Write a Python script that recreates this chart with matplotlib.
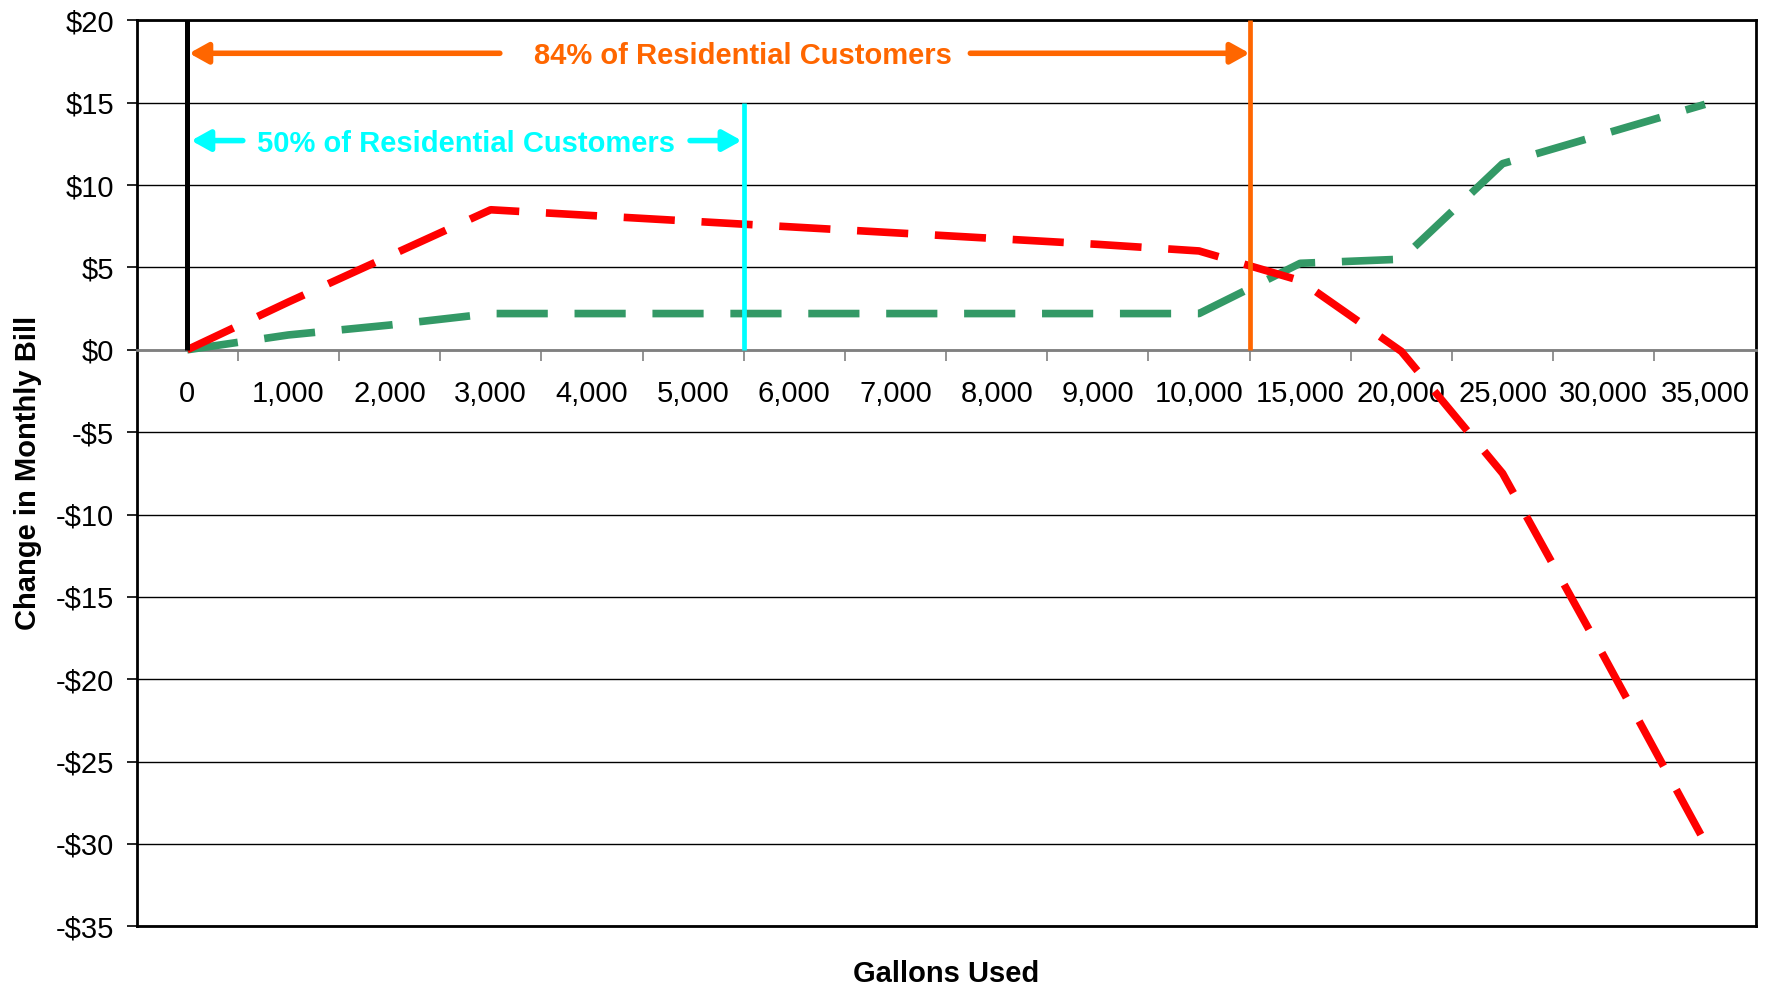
import numpy as np
import matplotlib
matplotlib.use("Agg")
import matplotlib.pyplot as plt

plt.rcParams['font.family'] = ['Liberation Sans', 'DejaVu Sans']

# Datos
gallons = [0, 1000, 2000, 3000, 4000, 5000, 6000, 7000, 8000, 9000, 10000,
           15000, 20000, 25000, 30000, 35000]
red_change = [0, 2.9, 5.7, 8.5, 8.15, 7.8, 7.45, 7.1, 6.75, 6.4, 6.0,
              4.2, -0.1, -7.5, -18.6, -29.9]
green_change = [0, 0.9, 1.5, 2.2, 2.2, 2.2, 2.2, 2.2, 2.2, 2.2, 2.2,
                5.25, 5.5, 11.3, 13.1, 14.9]
y_ticks = list(range(-35, 21, 5))

# Colores
RED = '#FF0000'
GREEN = '#339966'
ORANGE = '#FF6600'
CYAN = '#00FFFF'

fig = plt.figure(figsize=(17.69, 9.92), dpi=100)
ax = fig.add_axes([0.0772, 0.0662, 0.9152, 0.9133])

n = len(gallons)
xs = np.arange(n) + 0.5   # centro de cada categoria

ax.set_xlim(0, n)
ax.set_ylim(-35, 20)

# Lineas horizontales de la grilla
ax.set_yticks(y_ticks)
ax.set_yticklabels(['-$%d' % -v if v < 0 else '$%d' % v for v in y_ticks])
ax.yaxis.grid(True, color='black', lw=1.0)
ax.set_axisbelow(True)
ax.tick_params(axis='y', direction='out', length=7, width=1.2, pad=9, labelsize=21)

for s in ax.spines.values():
    s.set_linewidth(2.0)
    s.set_color('black')

# Eje de categorias cruzando en $0
ax.spines['bottom'].set_position(('data', 0))
ax.spines['bottom'].set_color('#808080')
ax.set_xticks(np.arange(1, n))
ax.set_xticks(xs, minor=True)
ax.set_xticklabels(['{:,}'.format(g) for g in gallons], minor=True)
ax.tick_params(axis='x', which='major', direction='out', length=8, width=1.2,
               color='#808080', labelbottom=False)
ax.tick_params(axis='x', which='minor', length=0, pad=22, labelsize=21)

# borde inferior del area de la grafica
ax.plot([0, 1], [0, 0], transform=ax.transAxes, color='black', lw=2.0,
        clip_on=False, zorder=6)

# Lineas de cambio en la factura
ax.plot(xs, green_change, color=GREEN, lw=5.5, dashes=(6.7, 3.5),
        dash_capstyle='butt', zorder=3)
ax.plot(xs, red_change, color=RED, lw=5.5, dashes=(6.7, 3.5),
        dash_capstyle='butt', zorder=4)

# Lineas verticales de referencia
x_start = xs[0]
x_half = gallons.index(5000) + 1.0
x_84 = gallons.index(10000) + 1.0
ax.vlines(x_start, 0, 20, color='black', lw=3.6, zorder=5)
ax.vlines(x_half, 0, 15, color=CYAN, lw=3.4, zorder=5)
ax.vlines(x_84, 0, 20, color=ORANGE, lw=3.4, zorder=5)


def flecha(x_tip, x_tail, y, color):
    ax.annotate('', xy=(x_tip, y), xytext=(x_tail, y),
                arrowprops=dict(arrowstyle='-|>,head_length=0.45,head_width=0.25',
                                color=color, lw=4, mutation_scale=25,
                                shrinkA=0, shrinkB=0), zorder=6)


# Flechas y textos
y84 = 18.0
flecha(x_start + 0.02, 3.59, y84, ORANGE)
flecha(x_84, 8.24, y84, ORANGE)
ax.text(5.99, y84, '84% of Residential Customers', color=ORANGE,
        fontsize=21, fontweight='bold', ha='center', va='center_baseline')

y50 = 12.7
flecha(x_start + 0.04, 1.05, y50, CYAN)
flecha(x_half - 0.02, 5.47, y50, CYAN)
ax.text(3.26, y50, '50% of Residential Customers', color=CYAN,
        fontsize=21, fontweight='bold', ha='center', va='center_baseline')

ax.set_xlabel('Gallons Used', fontsize=21, fontweight='bold')
ax.xaxis.set_label_coords(0.5, -0.037)
ax.set_ylabel('Change in Monthly Bill', fontsize=21, fontweight='bold', labelpad=10)

fig.savefig('out.png', dpi=100)
